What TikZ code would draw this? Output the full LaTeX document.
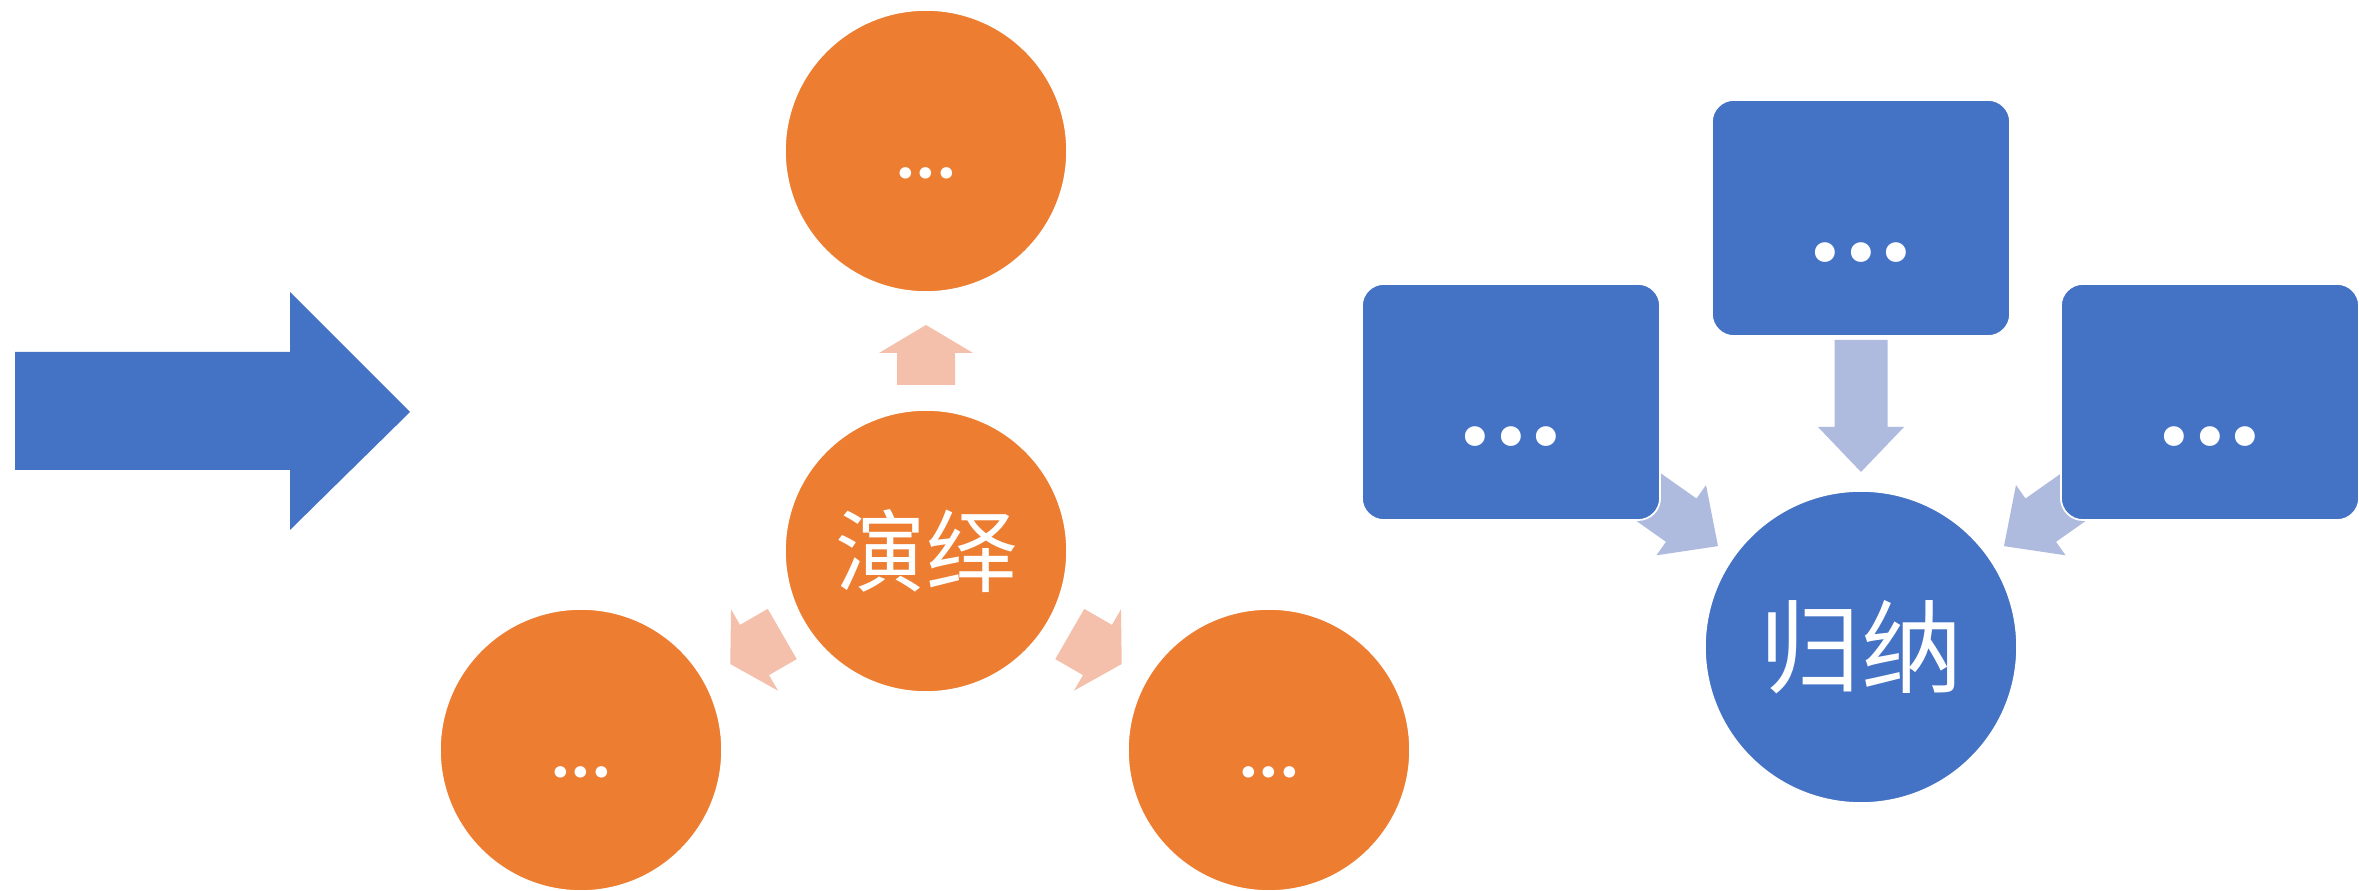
\documentclass[tikz,border=0pt]{standalone}
\usepackage{fontspec}
\setmainfont{Carlito}
\newfontfamily\cjk{Noto Sans CJK SC}
\definecolor{orng}{HTML}{ED7D31}
\definecolor{blu}{HTML}{4472C4}
\definecolor{lorng}{HTML}{F4BFAB}
\definecolor{lblu}{HTML}{AEBBDF}
\newcommand\blockarrow[8]{%
  \begin{scope}[shift={(#1)},rotate=#2]
    \fill[#8] (#3,-#6) -- (#4,-#6) -- (#4,-#7) -- (#5,0) -- (#4,#7) -- (#4,#6) -- (#3,#6) -- cycle;
  \end{scope}}
\begin{document}
\begin{tikzpicture}[x=0.01cm,y=0.01cm,
  ocirc/.style={circle, fill=orng, draw=white, line width=0.5pt, minimum size=2.82cm, inner sep=0pt, text=white},
  odots/.style={font=\bfseries\fontsize{22}{24}\selectfont, text height=0.55cm, text depth=0pt},
  bcirc/.style={circle, fill=blu, draw=white, line width=0.5pt, minimum size=3.12cm, inner sep=0pt, text=white},
  bbox/.style={rounded corners=0.22cm, fill=blu, draw=white, line width=0.5pt, minimum width=2.98cm, minimum height=2.36cm, inner sep=0pt, text=white, font=\bfseries\fontsize{38}{40}\selectfont, text height=0.86cm, text depth=0pt}
]
\useasboundingbox (0,0) rectangle (2359,891);
% big arrow
\fill[blu] (15,539) -- (290,539) -- (290,599) -- (410,479) -- (290,361) -- (290,421) -- (15,421) -- cycle;
% deduction
\node[ocirc, font=\cjk\fontsize{25.6}{28}\selectfont] (ded) at (926,340) {演绎};
\node[ocirc, odots] (otop) at (926,740) {...};
\node[ocirc, odots] (obl) at (581,141) {...};
\node[ocirc, odots] (obr) at (1269,141) {...};
\blockarrow{ded}{90}{166}{198}{226}{29}{47}{lorng}
\blockarrow{ded}{210}{166}{198}{226}{29}{47}{lorng}
\blockarrow{ded}{330}{166}{198}{226}{29}{47}{lorng}
% induction
\node[bcirc, font=\cjk\fontsize{28.8}{31}\selectfont] (ind) at (1861,244) {归纳};
\blockarrow{ind}{90}{307}{220}{175}{26.5}{43}{lblu}
\blockarrow{ind}{144.8}{307}{220}{175}{26.5}{43}{lblu}
\blockarrow{ind}{35.2}{307}{220}{175}{26.5}{43}{lblu}
\node[bbox] (bl) at (1511,489) {...};
\node[bbox] (bt) at (1861,673) {...};
\node[bbox] (br) at (2210,489) {...};
\end{tikzpicture}
\end{document}
